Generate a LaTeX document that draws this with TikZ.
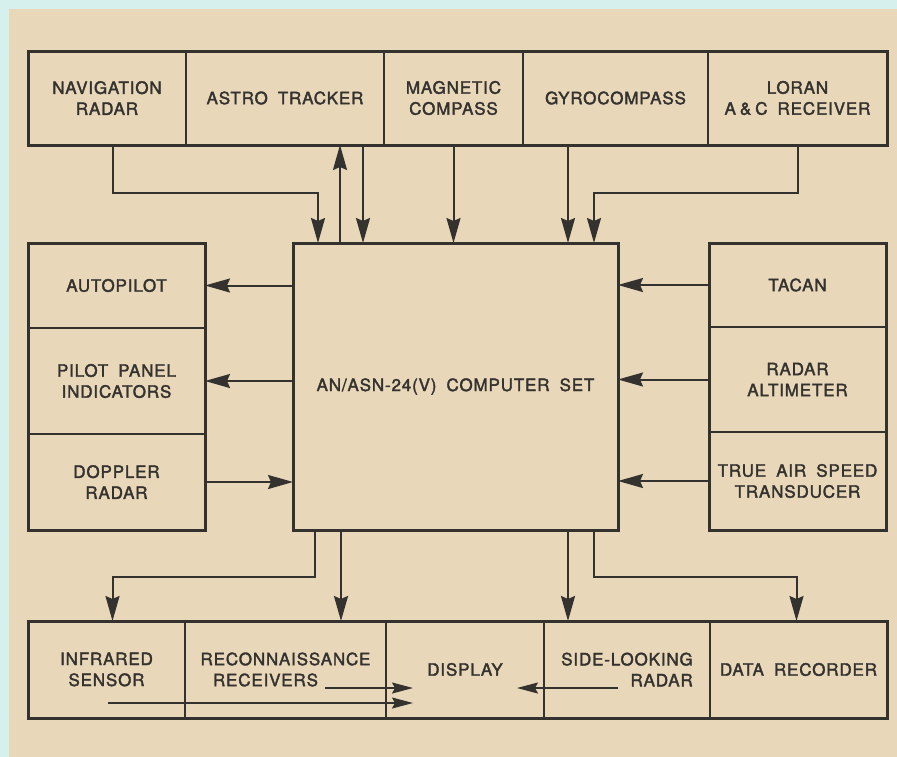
\documentclass[tikz,border=0pt]{standalone}
\usepackage{fontspec}
\setmainfont{TeX Gyre Heros}[LetterSpace=5, WordSpace=1.8, FakeBold=2]
\usetikzlibrary{positioning, arrows.meta, fit}

\definecolor{paper}{RGB}{233,215,185}
\definecolor{margin}{RGB}{214,240,238}
\definecolor{ink}{RGB}{52,50,47}

\begin{document}
\begin{tikzpicture}[
        x=1pt, y=-1pt,
        font=\fontsize{17}{21}\selectfont,
        cell/.style  = {rectangle, draw=ink, text=ink, line width=2pt, align=center,
                        inner sep=0pt, outer sep=0pt},
        frame/.style = {rectangle, draw=ink, line width=3pt, inner sep=0pt, outer sep=0pt},
        line/.style  = {draw=ink, line width=2pt, -{Stealth[length=25pt, width=14pt, inset=3pt]}},
        thin/.style  = {draw=ink, line width=1.5pt, -{Stealth[length=21pt, width=11pt, inset=3pt]}}
    ]
        % 背景
        \useasboundingbox (0,0) rectangle (897,756);
        \fill[margin] (-5,-5) rectangle (905,765);
        \fill[paper] (9,9) rectangle (905,765);

        % 上段
        \node [cell, minimum width=158pt, minimum height=94pt] (nav) at (107,98) {NAVIGATION\\RADAR};
        \node [cell, minimum width=198pt, minimum height=94pt, right=0pt of nav]      (astro)    {ASTRO TRACKER};
        \node [cell, minimum width=139pt, minimum height=94pt, right=0pt of astro]    (magnetic) {MAGNETIC\\COMPASS};
        \node [cell, minimum width=185pt, minimum height=94pt, right=0pt of magnetic] (gyro)     {GYROCOMPASS};
        \node [cell, minimum width=179pt, minimum height=94pt, right=0pt of gyro]     (loran)    {LORAN\\A\hspace{4pt}\&\hspace{4pt}C RECEIVER};
        \node [frame, fit=(nav)(loran)] (topframe) {};

        % 左
        \node [cell, minimum width=177pt, minimum height=85pt] (autopilot) at (116.5,285.5) {AUTOPILOT};
        \node [cell, minimum width=177pt, minimum height=106pt, below=0pt of autopilot] (pilot)   {PILOT PANEL\\INDICATORS};
        \node [cell, minimum width=177pt, minimum height=96pt,  below=0pt of pilot]     (doppler) {DOPPLER\\RADAR};
        \node [frame, fit=(autopilot)(doppler)] (leftframe) {};

        % 中央
        \node [cell, line width=3pt, minimum width=325pt, minimum height=287pt] (comp) at (455.5,386.5)
              {AN/ASN-24(V) COMPUTER SET};

        % 右
        \node [cell, minimum width=177pt, minimum height=84pt] (tacan) at (797.5,285) {TACAN};
        \node [cell, minimum width=177pt, minimum height=105pt, below=0pt of tacan]     (altimeter) {RADAR\\ALTIMETER};
        \node [cell, minimum width=177pt, minimum height=98pt,  below=0pt of altimeter] (tas)       {TRUE AIR SPEED\\TRANSDUCER};
        \node [frame, fit=(tacan)(tas)] (rightframe) {};

        % 下段
        \node [cell, minimum width=157pt, minimum height=97pt] (infrared) at (106.5,669.5) {INFRARED\\SENSOR};
        \node [cell, minimum width=201pt, minimum height=97pt, right=0pt of infrared] (recon)    {RECONNAISSANCE\\RECEIVERS\hspace*{40pt}};
        \node [cell, minimum width=158pt, minimum height=97pt, right=0pt of recon]    (display)  {DISPLAY};
        \node [cell, minimum width=166pt, minimum height=97pt, right=0pt of display,
               align=right]                                                           (slr)      {SIDE-LOOKING\\RADAR};
        \node [cell, minimum width=177pt, minimum height=97pt, right=0pt of slr]      (recorder) {DATA RECORDER};
        \node [frame, fit=(infrared)(recorder)] (bottomframe) {};

        % 分岐点
        \coordinate (navin)    at ([xshift=25pt]comp.north west);
        \coordinate (astroin)  at ([xshift=47pt]comp.north west);
        \coordinate (astroout) at ([xshift=70pt]comp.north west);
        \coordinate (gyroin)   at ([xshift=-50pt]comp.north east);
        \coordinate (loranin)  at ([xshift=-24pt]comp.north east);
        \coordinate (irtap)    at ([xshift=22pt]comp.south west);
        \coordinate (rectap)   at ([xshift=48pt]comp.south west);
        \coordinate (slrtap)   at ([xshift=-50pt]comp.south east);
        \coordinate (datatap)  at ([xshift=-24pt]comp.south east);
        \coordinate (irfrom)   at (108,703);
        \coordinate (recfrom)  at (325,688);
        \coordinate (slrfrom)  at (618,688);
        \coordinate (dispin)   at (413,688);
        \coordinate (dispin2)  at (413,703);
        \coordinate (dispin3)  at (517,688);

        % 矢印
        \path [line] ([xshift=6pt]nav.south) -- ++(0,48) -| (navin);
        \path [line] (astroin) -- (astroin |- astro.south);
        \path [line] (astroout |- astro.south) -- (astroout);
        \path [line] (magnetic.south) -- (magnetic.south |- comp.north);
        \path [line] (gyroin |- gyro.south) -- (gyroin);
        \path [line] (loran.south) -- ++(0,48) -| (loranin);

        \path [line] (comp.west |- autopilot.east) -- (autopilot.east);
        \path [line] (comp.west |- pilot.east)     -- (pilot.east);
        \path [line] (doppler.east) -- (comp.west |- doppler.east);

        \path [line] (tacan.west)     -- (comp.east |- tacan.west);
        \path [line] (altimeter.west) -- (comp.east |- altimeter.west);
        \path [line] (tas.west)       -- (comp.east |- tas.west);

        \path [line] (irtap) -- ++(0,47) -| ([xshift=6pt]infrared.north);
        \path [line] (rectap) -- (rectap |- recon.north);
        \path [line] (slrtap) -- (slrtap |- slr.north);
        \path [line] (datatap) -- ++(0,47) -| ([xshift=-2pt]recorder.north);

        \path [thin] (recfrom) -- (dispin);
        \path [thin] (irfrom)  -- (dispin2);
        \path [thin] (slrfrom) -- (dispin3);
    \end{tikzpicture}
\end{document}
